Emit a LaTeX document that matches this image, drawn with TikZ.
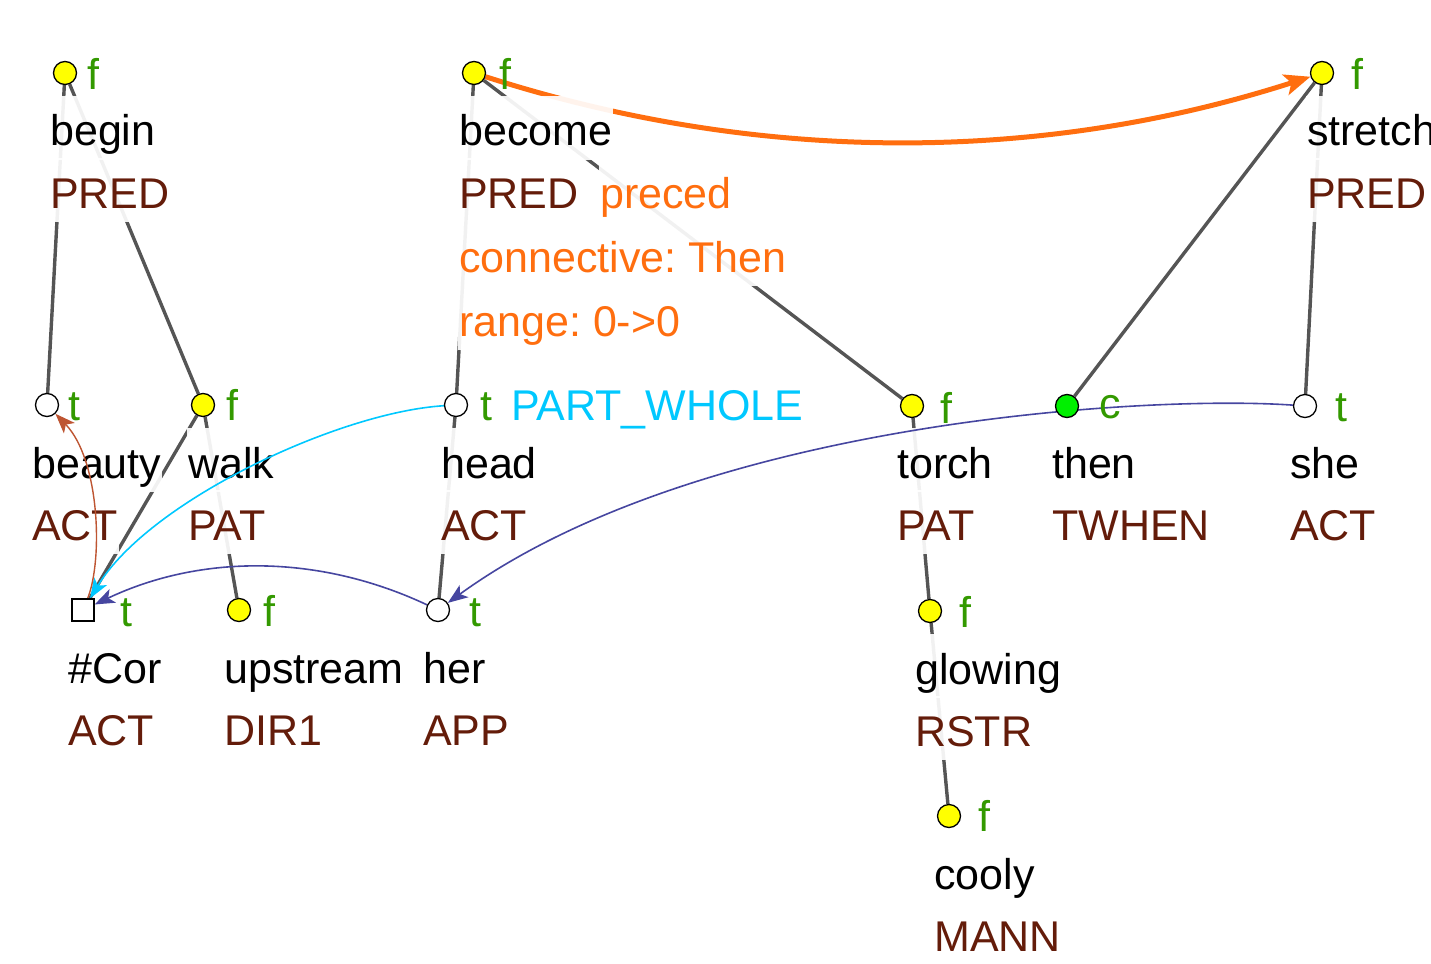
\documentclass[tikz,border=0pt]{standalone}
\usepackage{fontspec}
\setmainfont{Liberation Sans}
\usetikzlibrary{arrows.meta}
\frenchspacing
\definecolor{edgegray}{RGB}{85,85,85}
\definecolor{nodeyellow}{RGB}{255,255,0}
\definecolor{nodegreen}{RGB}{0,240,0}
\definecolor{flaggreen}{RGB}{51,153,0}
\definecolor{funcbrown}{RGB}{100,28,10}
\definecolor{orangeA}{RGB}{255,110,15}
\definecolor{cyanA}{RGB}{0,200,255}
\definecolor{blueA}{RGB}{70,70,160}
\definecolor{brownA}{RGB}{190,85,50}
\pgfdeclarelayer{bg}
\pgfdeclarelayer{mid}
\pgfsetlayers{bg,mid,main}
\tikzset{
  edge/.style={draw=edgegray, line width=3.4pt},
  circ/.style={circle, draw=black, line width=1.3pt, minimum size=23pt, inner sep=0pt},
  yel/.style={circ, fill=nodeyellow},
  wht/.style={circ, fill=white},
  grn/.style={circ, fill=nodegreen},
  sq/.style={rectangle, draw=black, line width=1.3pt, fill=white, minimum size=22pt, inner sep=0pt},
  word/.style={anchor=base west, inner xsep=1pt, inner ysep=6pt, text height=44pt, text depth=8pt,
    fill=white, fill opacity=0.92, text opacity=1, text=black},
  func/.style={word, text=funcbrown},
  orn/.style={word, text=orangeA},
  flag/.style={anchor=base west, inner sep=0pt, text=flaggreen},
  orangearrow/.style={draw=orangeA, line width=5pt, -{Stealth[length=26pt,width=21pt,inset=6pt]}},
  thinarrow/.style={line width=1.6pt, -{Stealth[length=20pt,width=15pt,inset=5pt]}},
}
\begin{document}
\begin{tikzpicture}[x=1pt,y=-1pt, every node/.append style={font=\fontsize{43}{50}\selectfont}]
\useasboundingbox (0,0) rectangle (1431,963);

% tree nodes
\node[yel] (begin) at (65,73) {};
\node[yel] (become) at (474,73) {};
\node[yel] (stretch) at (1322,73) {};
\node[wht] (beauty) at (47,405) {};
\node[yel] (walk) at (203,405) {};
\node[wht] (head) at (456,405) {};
\node[yel] (torch) at (912,406) {};
\node[grn] (then) at (1067,406) {};
\node[wht] (she) at (1305,406) {};
\node[sq] (cor) at (83,610) {};
\node[yel] (upstream) at (239,610) {};
\node[wht] (her) at (438,610) {};
\node[yel] (glowing) at (930,611) {};
\node[yel] (cooly) at (949,816) {};

% flags
\node[flag] (fbegin) at (87,90) {f};
\node[flag] (fbecome) at (499,90) {f};
\node[flag] (fstretch) at (1351,90) {f};
\node[flag] (fbeauty) at (68,420) {t};
\node[flag] (fwalk) at (226,420) {f};
\node[flag] (fhead) at (480,420) {t};
\node[flag, text=cyanA] (pw) at (511,420) {PART\_WHOLE};
\node[flag] (ftorch) at (940,423) {f};
\node[flag] (fthen) at (1099,418) {c};
\node[flag] (fshe) at (1335,421) {t};
\node[flag] (fcor) at (120,626) {t};
\node[flag] (fupstream) at (263,626) {f};
\node[flag] (fher) at (469,626) {t};
\node[flag] (fglowing) at (959,627) {f};
\node[flag] (fcooly) at (978,831) {f};

% text boxes
\begin{pgfonlayer}{mid}
\node[word] (wbegin) at (49,146) {begin};
\node[func] (pbegin) at (49,208) {PRED};
\node[word] (wbecome) at (458,146) {become};
\node[func] (pbecome) at (458,208) {PRED};
\node[orn] (opreced) at (599,208) {preced};
\node[orn] (oconn) at (458,272) {connective: Then};
\node[orn] (orange) at (458,336) {range: 0->0};
\node[word] (wstretch) at (1306,146) {stretch};
\node[func] (pstretch) at (1306,208) {PRED};
\node[word] (wbeauty) at (31,478) {beauty};
\node[func] (pbeauty) at (31,540) {ACT};
\node[word] (wwalk) at (187,478) {walk};
\node[func] (pwalk) at (187,540) {PAT};
\node[word] (whead) at (440,478) {head};
\node[func] (phead) at (440,540) {ACT};
\node[word] (wtorch) at (896,478) {torch};
\node[func] (ptorch) at (896,540) {PAT};
\node[word] (wthen) at (1051,478) {then};
\node[func] (pthen) at (1051,540) {TWHEN};
\node[word] (wshe) at (1289,478) {she};
\node[func] (pshe) at (1289,540) {ACT};
\node[word] (wcor) at (67,683) {\#Cor};
\node[func] (pcor) at (67,745) {ACT};
\node[word] (wupstream) at (223,683) {upstream};
\node[func] (pupstream) at (223,745) {DIR1};
\node[word] (wher) at (422,683) {her};
\node[func] (pher) at (422,745) {APP};
\node[word] (wglowing) at (914,684) {glowing};
\node[func] (pglowing) at (914,746) {RSTR};
\node[word] (wcooly) at (933,889) {cooly};
\node[func] (pcooly) at (933,951) {MANN};
\end{pgfonlayer}

% tree edges
\begin{pgfonlayer}{bg}
\draw[edge] (begin) -- (beauty);
\draw[edge] (begin) -- (walk);
\draw[edge] (walk) -- (cor);
\draw[edge] (walk) -- (upstream);
\draw[edge] (become) -- (head);
\draw[edge] (become) -- (torch);
\draw[edge] (head) -- (her);
\draw[edge] (torch) -- (glowing);
\draw[edge] (glowing) -- (cooly);
\draw[edge] (stretch) -- (then);
\draw[edge] (stretch) -- (she);
\draw[orangearrow] (become) .. controls (757,164) and (1039,164) .. (stretch);
\end{pgfonlayer}

% coreference arrows
\begin{pgfonlayer}{mid}
\draw[thinarrow, draw=cyanA] (head) .. controls (340,412) and (150,500) .. (cor);
\draw[thinarrow, draw=blueA] (her) .. controls (319,554) and (201,554) .. (cor);
\draw[thinarrow, draw=blueA] (she) .. controls (1150,395) and (700,420) .. (her);
\draw[thinarrow, draw=brownA, line width=1.4pt] (cor) .. controls (103,560) and (100,460) .. (beauty);
\end{pgfonlayer}
\end{tikzpicture}
\end{document}
